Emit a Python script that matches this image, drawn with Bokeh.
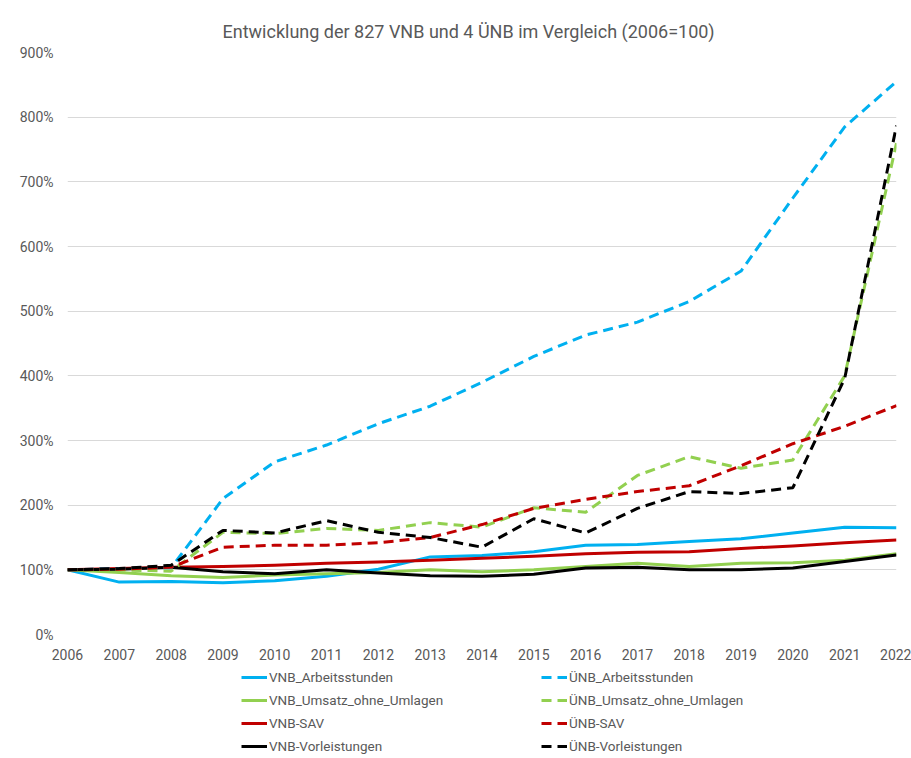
from bokeh.plotting import figure
from bokeh.layouts import column
from bokeh.models import Legend, LegendItem, FixedTicker, PrintfTickFormatter, Range1d
from bokeh.embed import file_html
from bokeh.resources import INLINE

years = list(range(2006, 2023))
vnb_arbeitsstunden = [100, 81, 82, 80, 83, 90, 101, 120, 122, 128, 138, 139, 144, 148, 157, 166, 165]
vnb_umsatz = [100, 96, 91, 88, 92, 94, 96, 100, 97, 100, 105, 110, 105, 110, 111, 115, 125]
vnb_sav = [100, 102, 104, 105, 107, 110, 112, 115, 118, 121, 125, 127, 128, 133, 137, 142, 146]
vnb_vorleistungen = [100, 101, 104, 97, 94, 100, 95, 91, 90, 93, 103, 104, 100, 100, 103, 113, 123]
uenb_arbeitsstunden = [100, 102, 103, 210, 267, 293, 326, 353, 390, 430, 463, 483, 515, 562, 675, 785, 855]
uenb_umsatz = [100, 100, 98, 158, 156, 164, 161, 173, 166, 196, 189, 246, 275, 257, 270, 400, 760]
uenb_sav = [100, 101, 104, 135, 138, 138, 142, 150, 170, 195, 209, 221, 230, 261, 295, 322, 354]
uenb_vorleistungen = [100, 102, 107, 161, 157, 176, 158, 150, 135, 179, 157, 195, 221, 218, 227, 396, 787]
y_ticks = list(range(0, 1000, 100))

title = "Entwicklung der 827 VNB und 4 ÜNB im Vergleich (2006=100)"
FONT = "Roboto"
GRAY = "#595959"

p = figure(width=911, height=664,
           min_border_left=67, min_border_right=15, min_border_top=52, min_border_bottom=30,
           output_backend="svg", toolbar_location=None,
           x_range=Range1d(2006, 2022), y_range=Range1d(0, 900))
p.title.text = title
p.title.align = "left"
p.title.offset = 155
p.title.text_font = FONT
p.title.text_font_size = "18px"
p.title.text_font_style = "normal"
p.title.text_color = GRAY
p.title.standoff = 21

p.outline_line_color = None
p.xgrid.grid_line_color = None
p.ygrid.grid_line_color = "#D9D9D9"
p.ygrid.grid_line_width = 1
p.yaxis.ticker = FixedTicker(ticks=y_ticks)
p.xaxis.ticker = FixedTicker(ticks=years)
p.yaxis.formatter = PrintfTickFormatter(format="%d%%")
for ax in (p.xaxis, p.yaxis):
    ax.axis_line_color = None
    ax.major_tick_line_color = None
    ax.minor_tick_line_color = None
    ax.major_tick_out = 0
    ax.major_tick_in = 0
    ax.minor_tick_out = 0
    ax.major_label_text_font = FONT
    ax.major_label_text_font_size = "14px"
    ax.major_label_text_color = GRAY
p.yaxis.major_label_standoff = 14
p.xaxis.major_label_standoff = 14

BLUE, GREEN, RED, BLACK = "#00B0F0", "#92D050", "#C00000", "#000000"
DASH = "10 6"
series = [
    ("VNB_Arbeitsstunden", vnb_arbeitsstunden, BLUE, "solid"),
    ("VNB_Umsatz_ohne_Umlagen", vnb_umsatz, GREEN, "solid"),
    ("VNB-SAV", vnb_sav, RED, "solid"),
    ("VNB-Vorleistungen", vnb_vorleistungen, BLACK, "solid"),
    ("ÜNB_Arbeitsstunden", uenb_arbeitsstunden, BLUE, DASH),
    ("ÜNB_Umsatz_ohne_Umlagen", uenb_umsatz, GREEN, DASH),
    ("ÜNB-SAV", uenb_sav, RED, DASH),
    ("ÜNB-Vorleistungen", uenb_vorleistungen, BLACK, DASH),
]
for name, vals, color, dash in series:
    p.line(years, vals, line_color=color, line_width=3, line_dash=dash, line_join="round")

# Legend panel below the chart (its lines lie outside the visible range)
lf = figure(width=911, height=94, min_border=0, output_backend="svg", toolbar_location=None,
            x_range=Range1d(0, 1), y_range=Range1d(0, 1), x_axis_type=None, y_axis_type=None)
lf.outline_line_color = None
lf.xgrid.grid_line_color = None
lf.ygrid.grid_line_color = None
leg_r = {}
for name, vals, color, dash in series:
    leg_r[name] = lf.line(years, vals, line_color=color, line_width=3, line_dash=dash)


def make_legend(names, loc):
    lg = Legend(items=[LegendItem(label=n, renderers=[leg_r[n]]) for n in names],
                location=loc, orientation="vertical")
    lg.border_line_color = None
    lg.background_fill_alpha = 0
    lg.label_text_font = FONT
    lg.label_text_font_size = "13.5px"
    lg.label_text_color = GRAY
    lg.glyph_width = 26
    lg.glyph_height = 20
    lg.label_height = 21
    lg.label_standoff = 2
    lg.spacing = 2
    lg.padding = 0
    lg.margin = 0
    return lg


lf.add_layout(make_legend([s[0] for s in series[:4]], (174, 2)))
lf.add_layout(make_legend([s[0] for s in series[4:]], (474, 2)))

layout = column(p, lf, spacing=0)
open("out.html", "w").write(file_html(layout, INLINE))
